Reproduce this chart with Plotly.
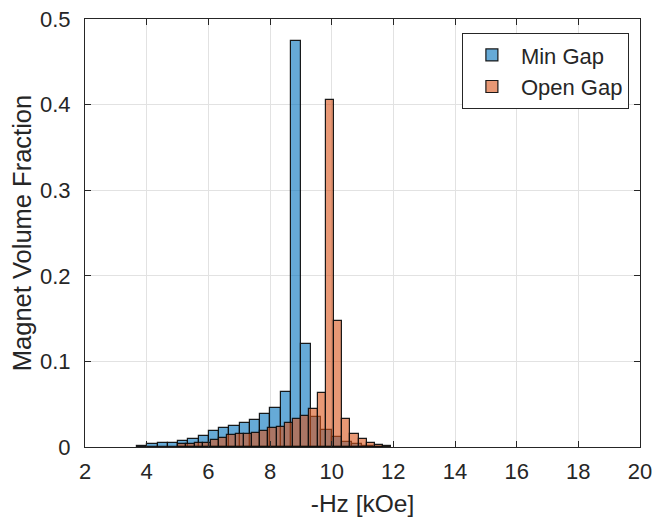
import plotly.graph_objects as go

# ---- data ----
min_gap_edges = [3.694, 4.026, 4.358, 4.690, 5.022, 5.354, 5.686, 6.018, 6.350, 6.682,
                 7.014, 7.346, 7.678, 8.010, 8.342, 8.674, 9.006, 9.338, 9.670, 10.002,
                 10.334, 10.666, 10.998, 11.330, 11.662]
min_gap_values = [0.0015, 0.0035, 0.0045, 0.0045, 0.0066, 0.0093, 0.0123, 0.0187, 0.0218, 0.0240,
                  0.0276, 0.0315, 0.0380, 0.0450, 0.0637, 0.4740, 0.1200, 0.0350, 0.0200, 0.0120,
                  0.0060, 0.0030, 0.0015, 0.0005]

open_gap_edges = [5.020, 5.286, 5.552, 5.818, 6.084, 6.350, 6.616, 6.882, 7.148, 7.414,
                  7.680, 7.946, 8.212, 8.478, 8.744, 9.010, 9.276, 9.542, 9.808, 10.074,
                  10.340, 10.606, 10.872, 11.138, 11.404, 11.670, 11.936]
open_gap_values = [0.0030, 0.0030, 0.0043, 0.0050, 0.0080, 0.0105, 0.0135, 0.0152, 0.0152, 0.0167,
                   0.0190, 0.0218, 0.0237, 0.0276, 0.0323, 0.0366, 0.0444, 0.0634, 0.4050, 0.1470,
                   0.0323, 0.0152, 0.0090, 0.0050, 0.0025, 0.0010]

x_ticks = [2, 4, 6, 8, 10, 12, 14, 16, 18, 20]
y_ticks = [0, 0.1, 0.2, 0.3, 0.4, 0.5]
y_tick_text = ["0", "0.1", "0.2", "0.3", "0.4", "0.5"]


def centers_widths(edges):
    c = [(a + b) / 2 for a, b in zip(edges[:-1], edges[1:])]
    w = [b - a for a, b in zip(edges[:-1], edges[1:])]
    return c, w


bc, bw = centers_widths(min_gap_edges)
oc, ow = centers_widths(open_gap_edges)

fig = go.Figure()
fig.add_trace(go.Bar(x=bc, y=min_gap_values, width=bw, name="Min Gap",
                     marker=dict(color="rgba(0,114,189,0.6)",
                                 line=dict(color="rgba(15,15,15,0.95)", width=1.2))))
fig.add_trace(go.Bar(x=oc, y=open_gap_values, width=ow, name="Open Gap",
                     marker=dict(color="rgba(217,83,25,0.6)",
                                 line=dict(color="rgba(15,15,15,0.95)", width=1.2))))

axis_col = "#262626"
grid_col = "#e2e2e2"
fig.update_layout(
    width=655, height=521,
    margin=dict(l=85, r=15, t=19, b=74),
    plot_bgcolor="white", paper_bgcolor="white",
    barmode="overlay", bargap=0,
    font=dict(family="Liberation Sans, Arial, sans-serif", size=22, color=axis_col),
    legend=dict(x=0.98, y=0.967, xanchor="right", yanchor="top",
                bgcolor="white", bordercolor=axis_col, borderwidth=1,
                font=dict(size=22, color=axis_col), tracegroupgap=0,
                itemwidth=48),
    showlegend=True,
)
fig.update_xaxes(range=[2, 20], tickvals=x_ticks, ticks="inside", ticklen=6,
                 tickcolor=axis_col, showline=True, linecolor=axis_col, linewidth=1,
                 mirror="ticks", showgrid=True, gridcolor=grid_col, zeroline=False,
                 ticklabelstandoff=5, automargin=False, ticklabeloverflow="allow",
                 title=dict(text="-Hz [kOe]", font=dict(size=24.5), standoff=11))
fig.update_yaxes(range=[0, 0.5], tickvals=y_ticks, ticktext=y_tick_text, ticks="inside",
                 ticklen=6, tickcolor=axis_col, showline=True, linecolor=axis_col,
                 linewidth=1, mirror="ticks", showgrid=True, gridcolor=grid_col,
                 zeroline=False, ticklabelstandoff=9, automargin=False,
                 ticklabeloverflow="allow",
                 title=dict(text="Magnet Volume Fraction", font=dict(size=25.5), standoff=1))

fig.write_html("out.html", config={"displayModeBar": False},
               post_script="document.body.style.margin='0px';document.body.style.overflow='hidden';")
